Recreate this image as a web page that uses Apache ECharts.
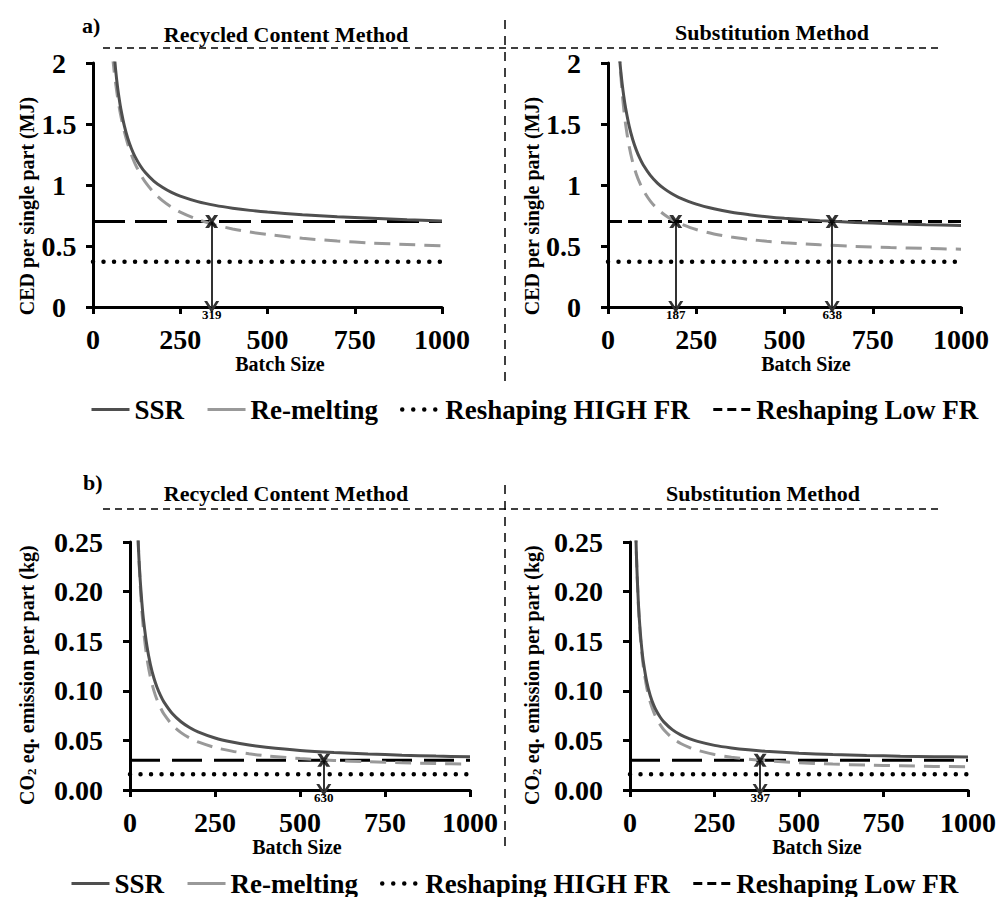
<!DOCTYPE html>
<html><head><meta charset="utf-8">
<script src="https://cdn.jsdelivr.net/npm/echarts@6/dist/echarts.min.js"></script>
<style>html,body{margin:0;padding:0;background:#fff}#c{width:1002px;height:897px}</style>
</head><body><div id="c"></div>
<script>
// ---------- DATA ----------
const seriesNames = ['SSR', 'Re-melting', 'Reshaping HIGH FR', 'Reshaping Low FR'];
const xTickValues = [0, 250, 500, 750, 1000];
const cedTickLabels = ['0', '0.5', '1', '1.5', '2'];
const co2TickLabels = ['0.00', '0.05', '0.10', '0.15', '0.20', '0.25'];

// a) CED per single part (MJ), Recycled Content Method
const tlSsrX = [60, 65, 70, 75, 80, 90, 100, 110, 120, 135, 150, 175, 200, 225, 250, 300, 350, 400, 450, 500, 600, 700, 800, 900, 1000];
const tlSsrY = [2.10, 1.94, 1.81, 1.707, 1.62, 1.482, 1.379, 1.299, 1.235, 1.16, 1.102, 1.03, 0.979, 0.939, 0.909, 0.864, 0.833, 0.81, 0.792, 0.778, 0.756, 0.74, 0.728, 0.716, 0.705];
const tlRemX = [45, 50, 55, 60, 65, 70, 75, 80, 90, 100, 110, 120, 135, 150, 175, 200, 225, 250, 300, 350, 400, 450, 500, 600, 700, 800, 900, 1000];
const tlRemY = [2.46, 2.255, 2.087, 1.947, 1.829, 1.728, 1.64, 1.563, 1.435, 1.332, 1.248, 1.178, 1.093, 1.024, 0.936, 0.87, 0.819, 0.778, 0.717, 0.673, 0.64, 0.614, 0.594, 0.563, 0.541, 0.524, 0.512, 0.501];
const tlHigh = 0.37, tlLow = 0.70;
const tlCrossX = [340], tlCrossLabel = ['319'];

// a) CED per single part (MJ), Substitution Method
const trSsrX = [30, 35, 40, 45, 50, 60, 70, 80, 90, 100, 120, 140, 160, 180, 200, 250, 300, 350, 400, 450, 500, 600, 700, 800, 900, 1000];
const trSsrY = [2.14, 1.969, 1.833, 1.722, 1.629, 1.483, 1.373, 1.288, 1.22, 1.164, 1.079, 1.016, 0.968, 0.93, 0.899, 0.843, 0.805, 0.777, 0.757, 0.74, 0.727, 0.708, 0.693, 0.683, 0.674, 0.668];
const trRemX = [28, 30, 35, 40, 45, 50, 60, 70, 80, 90, 100, 120, 140, 160, 180, 200, 250, 300, 350, 400, 450, 500, 600, 700, 800, 900, 1000];
const trRemY = [2.338, 2.21, 1.954, 1.763, 1.613, 1.494, 1.315, 1.187, 1.091, 1.017, 0.957, 0.868, 0.804, 0.756, 0.718, 0.689, 0.635, 0.599, 0.573, 0.554, 0.539, 0.527, 0.51, 0.497, 0.487, 0.48, 0.474];
const trHigh = 0.37, trLow = 0.70;
const trCrossX = [192, 635], trCrossLabel = ['187', '638'];

// b) CO2 eq. emission per part (kg), Recycled Content Method
const blSsrX = [18, 20, 25, 30, 35, 40, 50, 60, 70, 80, 90, 100, 125, 150, 175, 200, 250, 300, 350, 400, 500, 600, 700, 800, 900, 1000];
const blSsrY = [0.308, 0.2855, 0.2424, 0.2117, 0.1886, 0.1707, 0.1446, 0.1265, 0.1132, 0.1031, 0.0951, 0.0886, 0.0768, 0.0688, 0.063, 0.0586, 0.0524, 0.0483, 0.0453, 0.0431, 0.0399, 0.0378, 0.0363, 0.0351, 0.0342, 0.0335];
const blRemX = [18, 20, 25, 30, 35, 40, 50, 60, 70, 80, 90, 100, 125, 150, 175, 200, 250, 300, 350, 400, 500, 600, 700, 800, 900, 1000];
const blRemY = [0.3316, 0.3005, 0.2445, 0.2072, 0.1805, 0.1605, 0.1325, 0.1138, 0.1005, 0.0905, 0.0827, 0.0765, 0.0653, 0.0578, 0.0525, 0.0485, 0.0429, 0.0392, 0.0365, 0.0345, 0.0317, 0.0298, 0.0285, 0.0275, 0.0267, 0.0261];
const blHigh = 0.016, blLow = 0.030;
const blCrossX = [570], blCrossLabel = ['630'];

// b) CO2 eq. emission per part (kg), Substitution Method
const brSsrX = [14, 16, 18, 20, 25, 30, 35, 40, 50, 60, 70, 80, 90, 100, 125, 150, 175, 200, 250, 300, 350, 400, 500, 600, 700, 800, 900, 1000];
const brSsrY = [0.3113, 0.2761, 0.2486, 0.2267, 0.1872, 0.1609, 0.1421, 0.128, 0.1082, 0.095, 0.0856, 0.0786, 0.0731, 0.0687, 0.0608, 0.0555, 0.0518, 0.049, 0.045, 0.0424, 0.0405, 0.0391, 0.0371, 0.0358, 0.0348, 0.0341, 0.0336, 0.0332];
const brRemX = [14, 16, 18, 20, 25, 30, 35, 40, 50, 60, 70, 80, 90, 100, 125, 150, 175, 200, 250, 300, 350, 400, 500, 600, 700, 800, 900, 1000];
const brRemY = [0.316, 0.2789, 0.25, 0.227, 0.1854, 0.1577, 0.1379, 0.1231, 0.1023, 0.0885, 0.0786, 0.0711, 0.0654, 0.0608, 0.0524, 0.0469, 0.043, 0.04, 0.0358, 0.0331, 0.0311, 0.0296, 0.0275, 0.0261, 0.0251, 0.0244, 0.0238, 0.0234];
const brHigh = 0.016, brLow = 0.030;
const brCrossX = [385], brCrossLabel = ['397'];

// ---------- CHART ----------
const FONT = 'Liberation Serif';
const SSR_COLOR = '#4f4f4f', REM_COLOR = '#999999';
const pairs = (xs, ys) => xs.map((x, i) => [x, ys[i]]);
const crossPath = 'path://M0,0 L3.6,0 L6,3.4 L8.4,0 L12,0 L7.9,6 L12,12 L8.4,12 L6,8.6 L3.6,12 L0,12 L4.1,6 Z';
const arrowPath = 'path://M0,10 L6,0 L12,10 L9.6,10 L6,4.2 L2.4,10 Z';

const panels = [
  { ssrX: tlSsrX, ssrY: tlSsrY, remX: tlRemX, remY: tlRemY, high: tlHigh, low: tlLow, cx: tlCrossX, cl: tlCrossLabel,
    lowDash: [32, 10], grid: { left: 93, top: 63, width: 349, height: 244 }, yMax: 2, yInt: 0.5, yLabels: cedTickLabels,
    yAlign: 'center', yMargin: 34, yName: 'CED per single part (MJ)', yNameGap: 56, yNamePad: [0, 42, 0, 0], xNamePad: [0, 0, 0, 25], xNameGap: 47 },
  { ssrX: trSsrX, ssrY: trSsrY, remX: trRemX, remY: trRemY, high: trHigh, low: trLow, cx: trCrossX, cl: trCrossLabel,
    lowDash: [14, 6], grid: { left: 608, top: 63, width: 353, height: 244 }, yMax: 2, yInt: 0.5, yLabels: cedTickLabels,
    yAlign: 'right', yMargin: 27, yName: 'CED per single part (MJ)', yNameGap: 66, yNamePad: [0, 42, 0, 0], xNamePad: [0, 0, 0, 43], xNameGap: 46 },
  { ssrX: blSsrX, ssrY: blSsrY, remX: blRemX, remY: blRemY, high: blHigh, low: blLow, cx: blCrossX, cl: blCrossLabel,
    lowDash: [30, 12], grid: { left: 130, top: 542, width: 340, height: 248 }, yMax: 0.25, yInt: 0.05, yLabels: co2TickLabels,
    yAlign: 'right', yMargin: 27, yName: 'co2', yNameGap: 92, yNamePad: [0, 18, 0, 0], xNamePad: [0, 6, 0, 0], xNameGap: 46 },
  { ssrX: brSsrX, ssrY: brSsrY, remX: brRemX, remY: brRemY, high: brHigh, low: brLow, cx: brCrossX, cl: brCrossLabel,
    lowDash: [30, 12], grid: { left: 630, top: 542, width: 338, height: 248 }, yMax: 0.25, yInt: 0.05, yLabels: co2TickLabels,
    yAlign: 'right', yMargin: 27, yName: 'co2', yNameGap: 87, yNamePad: [0, 18, 0, 0], xNamePad: [0, 0, 0, 36], xNameGap: 46 }
];

const grids = [], xAxes = [], yAxes = [], series = [];
panels.forEach((p, i) => {
  grids.push(p.grid);
  xAxes.push({
    type: 'value', gridIndex: i, min: 0, max: 1000, interval: 250,
    axisLine: { lineStyle: { color: '#000', width: 3 } },
    axisTick: { show: true, length: 7, lineStyle: { color: '#000', width: 3 } },
    splitLine: { show: false },
    axisLabel: { color: '#000', fontFamily: FONT, fontWeight: 'bold', fontSize: 28, margin: 18,
      formatter: v => String(xTickValues[Math.round(v / 250)]) },
    name: 'Batch Size', nameLocation: 'middle', nameGap: p.xNameGap,
    nameTextStyle: { color: '#000', fontFamily: FONT, fontWeight: 'bold', fontSize: 20, padding: p.xNamePad }
  });
  const isCo2 = p.yName === 'co2';
  yAxes.push({
    type: 'value', gridIndex: i, min: 0, max: p.yMax, interval: p.yInt,
    axisLine: { show: true, lineStyle: { color: '#000', width: 3 } },
    axisTick: { show: true, length: 7, lineStyle: { color: '#000', width: 3 } },
    splitLine: { show: false },
    axisLabel: { color: '#000', fontFamily: FONT, fontWeight: 'bold', fontSize: 28, margin: p.yMargin, align: p.yAlign,
      formatter: v => p.yLabels[Math.round(v / p.yInt)] },
    name: isCo2 ? '{n|CO}{s|2}{n| eq. emission per part (kg)}' : p.yName,
    nameLocation: 'middle', nameRotate: 90, nameGap: p.yNameGap,
    nameTextStyle: { color: '#000', fontFamily: FONT, fontWeight: 'bold', fontSize: 20, padding: p.yNamePad,
      rich: { n: { fontFamily: FONT, fontWeight: 'bold', fontSize: 20, color: '#000' },
              s: { fontFamily: FONT, fontWeight: 'bold', fontSize: 13, color: '#000', padding: [9, 0, 0, 0] } } }
  });
  const common = { xAxisIndex: i, yAxisIndex: i, symbol: 'none', animation: false, silent: true };
  series.push(Object.assign({ type: 'line', name: seriesNames[2], data: [[0, p.high], [1000, p.high]],
    itemStyle: { color: '#000' },
    lineStyle: { color: '#000', width: 4.5, type: [0.01, 10.5], cap: 'round' } }, common));
  series.push(Object.assign({ type: 'line', name: seriesNames[3], data: [[0, p.low], [1000, p.low]],
    itemStyle: { color: '#000' },
    lineStyle: { color: '#000', width: 3, type: p.lowDash } }, common));
  series.push(Object.assign({ type: 'line', name: seriesNames[1], data: pairs(p.remX, p.remY), smooth: 0.3,
    itemStyle: { color: REM_COLOR },
    lineStyle: { color: REM_COLOR, width: 3, type: [16, 9] } }, common));
  series.push(Object.assign({ type: 'line', name: seriesNames[0], data: pairs(p.ssrX, p.ssrY), smooth: 0.3,
    itemStyle: { color: SSR_COLOR },
    lineStyle: { color: SSR_COLOR, width: 3 } }, common));
  series.push({
    type: 'scatter', name: 'intersection', xAxisIndex: i, yAxisIndex: i, animation: false, silent: true,
    symbol: crossPath, symbolSize: 13, itemStyle: { color: '#000' }, z: 5,
    data: p.cx.map(x => [x, p.low]),
    markLine: {
      silent: true, animation: false, symbol: ['none', arrowPath], symbolSize: [15, 12],
      lineStyle: { color: '#333', width: 2, type: 'solid' },
      label: { show: true, position: 'end', distance: 1, color: '#000', fontFamily: FONT, fontWeight: 'bold', fontSize: 13 },
      data: p.cx.map((x, k) => [
        { coord: [x, p.low], label: { formatter: p.cl[k] } },
        { coord: [x, 0] }
      ])
    }
  });
});

const hidden = { color: 'rgba(0,0,0,0)', opacity: 0, borderWidth: 0 };
function legendAt(left, top) {
  return {
    left: left, top: top, itemWidth: 38, itemHeight: 10, itemGap: 22, selectedMode: false,
    textStyle: { color: '#000', fontFamily: FONT, fontWeight: 'bold', fontSize: 27 },
    data: [
      { name: seriesNames[0], itemStyle: hidden, lineStyle: { color: SSR_COLOR, width: 3, type: 'solid' } },
      { name: seriesNames[1], itemStyle: hidden, lineStyle: { color: REM_COLOR, width: 3, type: 'solid' } },
      { name: seriesNames[2], itemStyle: hidden, lineStyle: { color: '#000', width: 4.5, type: [0.01, 11], cap: 'round' } },
      { name: seriesNames[3], itemStyle: hidden, lineStyle: { color: '#000', width: 3, type: [9, 5] } }
    ]
  };
}

function txt(x, y, t, size, align) {
  return { type: 'text', x: x, y: y, silent: true,
    style: { text: t, fill: '#000', font: 'bold ' + size + 'px "' + FONT + '"', align: align || 'center', verticalAlign: 'middle' } };
}
function dline(x1, y1, x2, y2, dash) {
  return { type: 'line', silent: true, shape: { x1: x1, y1: y1, x2: x2, y2: y2 },
    style: { stroke: '#000', lineWidth: 1.5, lineDash: dash } };
}

const chart = echarts.init(document.getElementById('c'), null, { renderer: 'svg' });
chart.setOption({
  backgroundColor: '#fff',
  animation: false,
  grid: grids, xAxis: xAxes, yAxis: yAxes, series: series,
  legend: [legendAt(85, 391), legendAt(65, 865)],
  graphic: [
    txt(82, 25, 'a)', 22, 'left'),
    txt(286, 34, 'Recycled Content Method', 22),
    txt(772, 32, 'Substitution Method', 22),
    dline(103, 48, 942, 48, [7, 5]),
    dline(505, 20, 505, 387, [9, 7]),
    txt(83, 482, 'b)', 22, 'left'),
    txt(286, 493, 'Recycled Content Method', 22),
    txt(763, 493, 'Substitution Method', 22),
    dline(103, 509, 942, 509, [7, 5]),
    dline(505, 485, 505, 850, [9, 7])
  ]
});
</script></body></html>
